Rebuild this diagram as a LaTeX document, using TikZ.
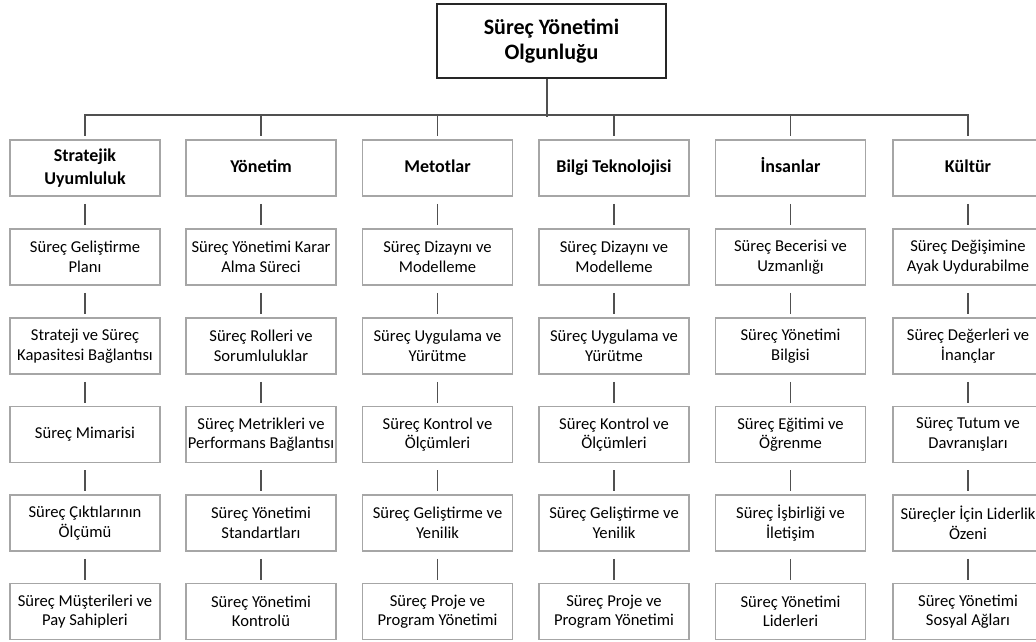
\documentclass[tikz,border=0pt]{standalone}
\usepackage{fontspec}
\setmainfont{Carlito}
\definecolor{boxgray}{HTML}{A6A6A6}
\definecolor{linegray}{HTML}{505050}
\begin{document}
\begin{tikzpicture}[x=1pt,y=-1pt,
  box/.style={draw=boxgray,line width=1.6pt,fill=white,minimum width=150pt,minimum height=56pt,
    align=center,inner sep=0pt,font=\fontsize{16.6}{19.5}\selectfont},
  catbox/.style={box,font=\bfseries\fontsize{18}{23}\selectfont},
  topbox/.style={draw=black!85,line width=1.3pt,fill=white,minimum width=229pt,minimum height=74pt,
    align=center,inner sep=0pt,font=\bfseries\fontsize{22}{25}\selectfont},
  conn/.style={draw=linegray,line width=1.3pt},
  link/.style={conn,shorten <=7pt,shorten >=3pt}]
\useasboundingbox (0,0) rectangle (1036,641);
\node[topbox] (top) at (551.5,41) {Süreç Yönetimi\\Olgunluğu};
\coordinate (bus) at (547,115);
\draw[conn] (top.south -| bus) -- ([yshift=-2pt]bus);

% categories
\node[catbox] (c1) at (85,168) {Stratejik\\Uyumluluk};
\node[catbox] (c2) at (261,168) {\strut Yönetim};
\node[catbox] (c3) at (437.5,168) {\strut Metotlar};
\node[catbox] (c4) at (614,168) {\strut Bilgi Teknolojisi};
\node[catbox] (c5) at (790.5,168) {\strut İnsanlar};
\node[catbox] (c6) at (968,168) {\strut Kültür};

\foreach \i in {1,...,6}{
  \draw[conn,shorten >=3pt] (bus) -| (c\i.north);
}

% column 1
\node[box] (a1) at (85,257) {Süreç Geliştirme\\Planı};
\node[box] (a2) at (85,346) {Strateji ve Süreç\\Kapasitesi Bağlantısı};
\node[box] (a3) at (85,434.5) {\strut Süreç Mimarisi};
\node[box] (a4) at (85,523) {Süreç Çıktılarının\\Ölçümü};
\node[box] (a5) at (85,611.5) {Süreç Müşterileri ve\\Pay Sahipleri};
% column 2
\node[box] (b1) at (261,257) {Süreç Yönetimi Karar\\Alma Süreci};
\node[box] (b2) at (261,346) {Süreç Rolleri ve\\Sorumluluklar};
\node[box] (b3) at (261,434.5) {Süreç Metrikleri ve\\Performans Bağlantısı};
\node[box] (b4) at (261,523) {Süreç Yönetimi\\Standartları};
\node[box] (b5) at (261,611.5) {Süreç Yönetimi\\Kontrolü};
% column 3
\node[box] (d1) at (437.5,257) {Süreç Dizaynı ve\\Modelleme};
\node[box] (d2) at (437.5,346) {Süreç Uygulama ve\\Yürütme};
\node[box] (d3) at (437.5,434.5) {Süreç Kontrol ve\\Ölçümleri};
\node[box] (d4) at (437.5,523) {Süreç Geliştirme ve\\Yenilik};
\node[box] (d5) at (437.5,611.5) {Süreç Proje ve\\Program Yönetimi};
% column 4
\node[box] (e1) at (614,257) {Süreç Dizaynı ve\\Modelleme};
\node[box] (e2) at (614,346) {Süreç Uygulama ve\\Yürütme};
\node[box] (e3) at (614,434.5) {Süreç Kontrol ve\\Ölçümleri};
\node[box] (e4) at (614,523) {Süreç Geliştirme ve\\Yenilik};
\node[box] (e5) at (614,611.5) {Süreç Proje ve\\Program Yönetimi};
% column 5
\node[box] (f1) at (790.5,257) {Süreç Becerisi ve\\Uzmanlığı};
\node[box] (f2) at (790.5,346) {Süreç Yönetimi\\Bilgisi};
\node[box] (f3) at (790.5,434.5) {Süreç Eğitimi ve\\Öğrenme};
\node[box] (f4) at (790.5,523) {Süreç İşbirliği ve\\İletişim};
\node[box] (f5) at (790.5,611.5) {Süreç Yönetimi\\Liderleri};
% column 6
\node[box] (g1) at (968,257) {Süreç Değişimine\\Ayak Uydurabilme};
\node[box] (g2) at (968,346) {Süreç Değerleri ve\\İnançlar};
\node[box] (g3) at (968,434.5) {Süreç Tutum ve\\Davranışları};
\node[box] (g4) at (968,523) {Süreçler İçin Liderlik\\Özeni};
\node[box] (g5) at (968,611.5) {Süreç Yönetimi\\Sosyal Ağları};

\foreach \c/\x in {1/a,2/b,3/d,4/e,5/f,6/g}{
  \draw[link] (c\c.south) -- (\x1.north);
  \draw[link] (\x1.south) -- (\x2.north);
  \draw[link] (\x2.south) -- (\x3.north);
  \draw[link] (\x3.south) -- (\x4.north);
  \draw[link] (\x4.south) -- (\x5.north);
}
\end{tikzpicture}
\end{document}
